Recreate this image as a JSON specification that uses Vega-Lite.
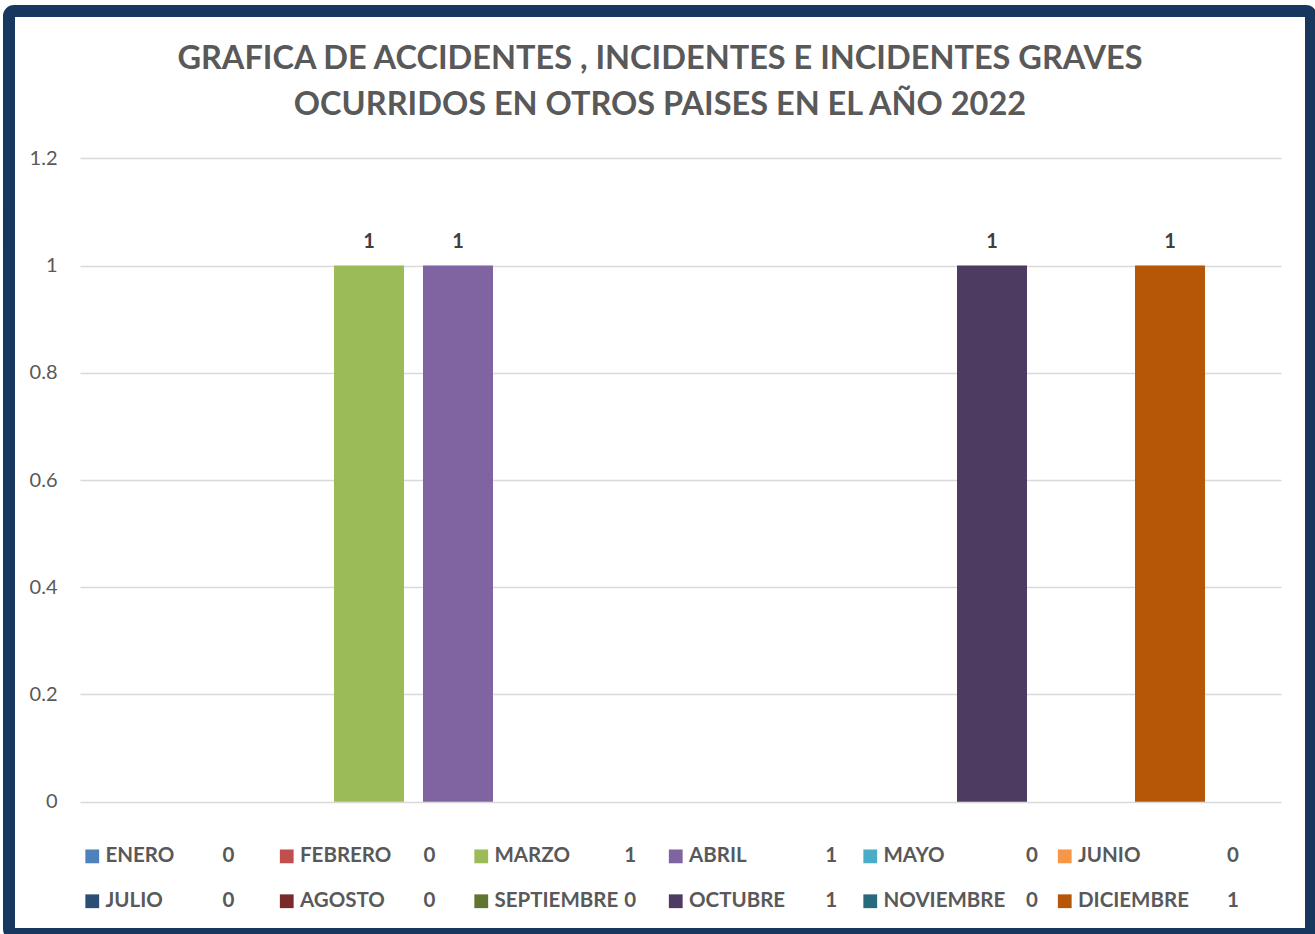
{
  "$schema": "https://vega.github.io/schema/vega-lite/v6.json",
  "width": 1302,
  "height": 923,
  "autosize": {"type": "none"},
  "padding": {"left": 9, "top": 11, "right": 4, "bottom": 0},
  "background": "white",
  "config": {
    "view": {"stroke": "#17375E", "strokeWidth": 12, "cornerRadius": 5, "fill": "white"},
    "font": "Lato"
  },
  "title": {
    "text": ["GRAFICA DE ACCIDENTES , INCIDENTES E INCIDENTES GRAVES", "OCURRIDOS EN OTROS PAISES EN EL AÑO 2022"],
    "font": "Lato",
    "fontSize": 32.5,
    "fontWeight": "bold",
    "color": "#595959",
    "anchor": "middle",
    "lineHeight": 46,
    "offset": -110
  },
  "data": {
    "values": [
      {"mes": "ENERO", "orden": 1, "valor": 0},
      {"mes": "FEBRERO", "orden": 2, "valor": 0},
      {"mes": "MARZO", "orden": 3, "valor": 1},
      {"mes": "ABRIL", "orden": 4, "valor": 1},
      {"mes": "MAYO", "orden": 5, "valor": 0},
      {"mes": "JUNIO", "orden": 6, "valor": 0},
      {"mes": "JULIO", "orden": 7, "valor": 0},
      {"mes": "AGOSTO", "orden": 8, "valor": 0},
      {"mes": "SEPTIEMBRE", "orden": 9, "valor": 0},
      {"mes": "OCTUBRE", "orden": 10, "valor": 1},
      {"mes": "NOVIEMBRE", "orden": 11, "valor": 0},
      {"mes": "DICIEMBRE", "orden": 12, "valor": 1}
    ]
  },
  "encoding": {
    "x": {
      "field": "mes",
      "type": "nominal",
      "scale": {
        "domain": ["ENERO", "FEBRERO", "MARZO", "ABRIL", "MAYO", "JUNIO", "JULIO", "AGOSTO", "SEPTIEMBRE", "OCTUBRE", "NOVIEMBRE", "DICIEMBRE"],
        "range": [71, 1272],
        "paddingInner": 0.2135,
        "paddingOuter": 0.854
      },
      "axis": null
    },
    "y": {
      "field": "valor",
      "type": "quantitative",
      "scale": {"domain": [0, 1.2], "range": [790.7, 147.3], "nice": false, "zero": true},
      "axis": {
        "values": [0, 0.2, 0.4, 0.6, 0.8, 1, 1.2],
        "format": "~g",
        "offset": -71,
        "domain": false,
        "ticks": false,
        "tickSize": 0,
        "labelPadding": 23,
        "labelFont": "Lato",
        "labelFontSize": 20,
        "labelColor": "#595959",
        "gridColor": "#D9D9D9",
        "gridWidth": 1.6,
        "title": null
      }
    }
  },
  "layer": [
    {
      "mark": {"type": "bar"},
      "encoding": {
        "color": {
          "field": "mes",
          "type": "nominal",
          "scale": {
            "domain": ["ENERO", "FEBRERO", "MARZO", "ABRIL", "MAYO", "JUNIO", "JULIO", "AGOSTO", "SEPTIEMBRE", "OCTUBRE", "NOVIEMBRE", "DICIEMBRE"],
            "range": ["#4F81BD", "#C0504D", "#9BBB59", "#8064A2", "#4BACC6", "#F79646", "#2C4D75", "#772C2A", "#5F7530", "#4D3B62", "#276A7C", "#B65708"]
          },
          "legend": {
            "orient": "none",
            "direction": "horizontal",
            "legendX": 73,
            "legendY": 835,
            "columns": 6,
            "title": null,
            "symbolType": "square",
            "symbolSize": 190,
            "symbolStrokeWidth": 0,
            "labelFont": "Lato",
            "labelFontSize": 20.5,
            "labelFontWeight": "bold",
            "labelColor": "#595959",
            "labelOffset": 3,
            "labelLimit": 400,
            "columnPadding": 46.5,
            "rowPadding": 24,
            "gridAlign": "all",
            "padding": 0
          }
        }
      }
    },
    {
      "transform": [{"filter": "datum.valor > 0"}],
      "mark": {"type": "text", "dy": -18, "baseline": "alphabetic", "fontWeight": "bold", "fontSize": 20, "font": "Lato", "color": "#404040"},
      "encoding": {"text": {"field": "valor", "type": "quantitative"}}
    },
    {
      "transform": [{"calculate": "datum.mes + '|' + datum.valor", "as": "etiqueta"}],
      "mark": {"type": "point", "opacity": 0},
      "encoding": {
        "shape": {
          "field": "etiqueta",
          "type": "nominal",
          "sort": {"field": "orden", "op": "min"},
          "scale": {"range": ["square"]},
          "legend": {
            "orient": "none",
            "direction": "horizontal",
            "legendX": 193,
            "legendY": 835,
            "columns": 6,
            "title": null,
            "symbolSize": 0,
            "symbolOpacity": 0,
            "labelExpr": "split(datum.label, '|')[1]",
            "labelFont": "Lato",
            "labelFontSize": 20.5,
            "labelFontWeight": "bold",
            "labelColor": "#595959",
            "labelOffset": 0,
            "labelLimit": 400,
            "columnPadding": 167.9,
            "rowPadding": 24,
            "gridAlign": "all",
            "padding": 0
          }
        }
      }
    }
  ]
}
